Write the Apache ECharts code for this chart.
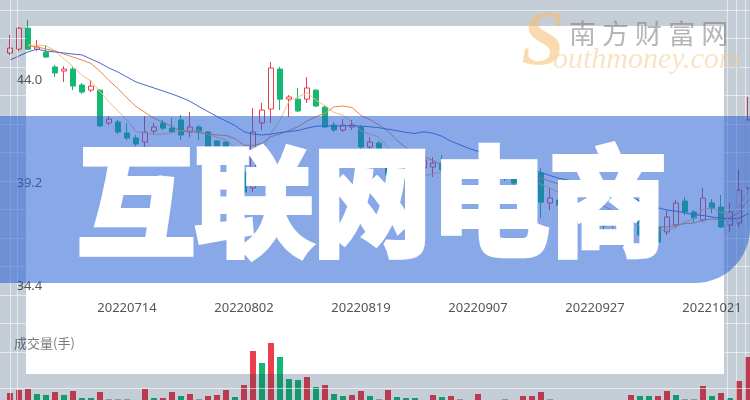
<!DOCTYPE html>
<html><head><meta charset="utf-8">
<script src="https://cdn.jsdelivr.net/npm/echarts@6/dist/echarts.min.js"></script>
<style>html,body{margin:0;padding:0;background:#fff}#c{width:750px;height:400px}</style>
</head><body><div id="c"></div>
<script>
const dates = ['20220627','20220628','20220629','20220630','20220701','20220704','20220705','20220706','20220707','20220708',
'20220711','20220712','20220713','20220714','20220715','20220718','20220719','20220720','20220721','20220722',
'20220725','20220726','20220727','20220728','20220729','20220801','20220802','20220803','20220804','20220805',
'20220808','20220809','20220810','20220811','20220812','20220815','20220816','20220817','20220818','20220819',
'20220822','20220823','20220824','20220825','20220826','20220829','20220830','20220831','20220901','20220902',
'20220905','20220906','20220907','20220908','20220909','20220913','20220914','20220915','20220916','20220919',
'20220920','20220921','20220922','20220923','20220926','20220927','20220928','20220929','20220930','20221010',
'20221011','20221012','20221013','20221014','20221017','20221018','20221019','20221020','20221021','20221024',
'20221025','20221026','20221027'];
const openP = [45.26,45.44,46.42,45.44,45.30,44.61,44.42,44.51,43.77,43.53,
43.53,42.00,42.04,41.53,41.30,41.11,41.62,42.00,41.76,42.14,
41.58,41.81,41.58,41.16,41.11,40.74,39.71,38.97,42.00,42.65,
44.51,43.11,43.11,43.11,43.53,42.74,41.90,41.67,41.81,41.81,
40.88,41.06,40.27,39.71,39.45,39.30,39.90,39.95,40.13,39.80,
39.90,39.85,39.60,39.85,39.60,39.45,39.40,39.15,39.30,39.67,
38.27,38.41,38.20,37.95,37.50,37.25,37.35,37.38,37.25,37.35,
37.57,36.85,37.15,36.92,37.24,38.36,37.85,37.48,38.27,38.08,
37.24,37.34,38.97];
const closeP = [45.49,46.42,45.44,45.54,45.07,44.33,44.51,43.72,43.44,43.72,
41.86,42.18,41.58,41.30,41.02,41.58,41.81,41.76,41.58,41.44,
41.81,41.58,40.88,40.92,40.83,40.04,38.78,41.58,42.60,44.56,
43.11,43.21,42.56,43.63,42.79,41.81,41.67,41.90,41.90,40.88,
41.11,40.83,39.57,39.43,39.25,39.10,40.27,40.13,39.81,39.95,
39.85,39.70,39.90,39.65,39.45,39.40,39.20,39.35,39.45,38.31,
38.50,38.17,37.95,37.70,37.20,37.35,37.20,37.25,37.40,37.55,
36.78,36.70,36.45,37.62,38.27,37.85,37.57,38.50,38.03,37.15,
37.85,38.87,42.14];
const lowP = [45.17,45.35,45.40,45.35,45.03,44.14,43.91,43.53,43.35,43.44,
41.81,41.90,41.48,41.20,40.92,40.88,41.44,41.67,41.53,41.20,
41.34,41.20,40.78,40.83,40.74,39.81,38.27,38.78,41.67,42.00,
42.60,42.28,42.51,42.93,42.74,41.76,41.58,41.58,41.67,40.64,
40.50,40.60,39.43,39.30,39.10,39.00,39.57,39.48,39.71,39.60,
39.70,39.60,39.50,39.50,39.30,39.30,39.10,39.00,39.20,37.57,
37.94,37.71,37.80,37.60,37.10,37.10,37.05,37.10,37.10,37.25,
36.70,36.60,36.35,36.78,37.10,37.71,37.38,37.38,37.80,37.10,
36.92,37.15,38.87];
const highP = [46.10,46.47,46.80,45.86,45.63,44.70,44.65,44.61,43.86,44.00,
43.58,42.32,42.14,42.00,41.44,42.32,42.00,42.14,42.23,42.37,
42.51,41.90,41.62,41.20,41.16,40.83,39.90,42.70,42.93,44.84,
44.61,43.30,43.63,44.14,43.58,42.79,42.04,42.18,42.14,41.90,
41.34,41.16,40.74,39.85,39.60,39.45,40.36,40.41,40.50,40.10,
40.00,39.95,40.00,39.95,39.70,39.55,39.50,39.45,39.60,39.90,
38.97,38.55,38.30,38.10,37.60,37.50,37.45,37.50,37.50,37.65,
37.65,37.00,37.20,37.94,38.41,38.55,37.94,38.97,38.45,38.64,
38.27,39.81,43.21];
const ma5 = [null,null,45.63,45.63,45.60,45.36,44.98,44.64,44.22,43.95,
43.45,42.99,42.56,42.13,41.59,41.53,41.46,41.49,41.55,41.63,
41.68,41.63,41.46,41.33,41.21,40.85,40.29,40.43,40.77,41.51,
42.13,43.01,43.21,43.41,43.06,42.80,42.49,42.36,42.02,41.63,
41.49,41.33,40.86,40.37,40.04,39.64,39.53,39.64,39.71,39.85,
40.00,39.89,39.85,39.82,39.71,39.62,39.52,39.41,39.36,39.14,
38.96,38.76,38.48,38.13,37.91,37.67,37.48,37.34,37.27,37.35,
37.24,37.13,36.98,37.02,37.16,37.38,37.55,37.96,38.05,37.82,
37.82,38.08,38.81];
const ma10 = [null,null,45.59,45.54,45.45,45.35,45.21,45.07,44.93,44.77,
44.41,43.98,43.60,43.17,42.77,42.49,42.22,42.03,41.84,41.61,
41.61,41.55,41.48,41.44,41.42,41.27,40.96,40.95,41.05,41.36,
41.49,41.65,41.82,42.09,42.29,42.46,42.75,42.79,42.72,42.35,
42.15,41.91,41.61,41.19,40.84,40.57,40.43,40.25,40.04,39.95,
39.82,39.71,39.74,39.77,39.79,39.81,39.71,39.63,39.59,39.43,
39.29,39.14,38.94,38.75,38.52,38.32,38.12,37.91,37.70,37.63,
37.46,37.31,37.16,37.15,37.25,37.31,37.34,37.47,37.53,37.49,
37.60,37.82,38.39];
const ma20 = [44.93,45.12,45.31,45.44,45.35,45.31,45.26,45.21,45.17,44.98,
44.79,44.56,44.37,44.14,43.91,43.77,43.63,43.49,43.35,43.19,
43.01,42.76,42.53,42.30,42.09,41.88,41.59,41.48,41.44,41.48,
41.55,41.60,41.65,41.76,41.85,41.86,41.86,41.86,41.88,41.85,
41.82,41.78,41.71,41.64,41.56,41.51,41.59,41.52,41.38,41.15,
40.98,40.81,40.68,40.48,40.31,40.19,40.07,39.94,39.81,39.69,
39.55,39.42,39.34,39.25,39.15,39.06,38.91,38.77,38.64,38.53,
38.37,38.22,38.05,37.94,37.89,37.81,37.73,37.69,37.62,37.56,
37.53,37.56,37.77];
const volume = [17,20,21,16,15,18,15,19,12,12,
18,11,11,11,8,21,12,12,18,14,
16,11,14,15,20,13,25,59,47,67,
53,31,30,33,23,25,16,14,15,19,
14,11,20,13,12,12,8,15,13,14,
11,8,16,8,8,11,8,14,14,18,
11,8,7,8,6,7,8,7,8,15,
14,14,14,19,15,11,11,24,14,17,
12,29,53];
const volDir = [1,1,1,-1,-1,1,-1,1,-1,-1,
1,0,0,0,0,1,-1,1,1,-1,
1,0,1,1,1,-1,1,1,-1,1,
-1,-1,-1,1,-1,1,-1,-1,1,1,
-1,0,1,-1,-1,-1,0,1,-1,1,
0,0,1,0,0,0,0,1,1,1,
0,0,0,0,0,0,0,0,0,1,
-1,-1,1,1,-1,0,0,1,-1,1,
-1,1,1];
const yTicks = [34.4, 39.2, 44.0];
const titleText = '互联网电商';
const volLabel = '成交量(手)';

const RED = '#ee3d4c', GREEN = '#15b873', GRAY = '#b4b4b4';
const candles = dates.map((d, i) => [openP[i], closeP[i], lowP[i], highP[i]]);
const volData = volume.map((v, i) => ({value: v, itemStyle: {color: volDir[i] > 0 ? RED : (volDir[i] < 0 ? GREEN : GRAY)}}));

const overlay = 'rgba(23,55,91,0.25)';
const lineCol = 'rgba(255,255,255,0.55)';
const g = [];
g.push({type:'text', x:14, y:343, z:1, style:{text:volLabel, fill:'#7a7a7a', font:'13px "Noto Sans CJK SC", sans-serif', textVerticalAlign:'middle'}});
[[0,0,750,26],[0,374,750,26],[0,26,26,348],[724,26,26,348]].forEach(r => g.push({type:'rect', z:10, shape:{x:r[0],y:r[1],width:r[2],height:r[3]}, style:{fill:overlay}}));
g.push({type:'line', z:11, shape:{x1:0,y1:10.5,x2:750,y2:10.5}, style:{stroke:lineCol, lineWidth:1}});
g.push({type:'line', z:11, shape:{x1:0,y1:388.5,x2:750,y2:388.5}, style:{stroke:lineCol, lineWidth:1}});
[10.5, 17.5].forEach(x => g.push({type:'line', z:11, shape:{x1:x,y1:0,x2:x,y2:400}, style:{stroke:lineCol, lineWidth:1}}));
[727.5, 736.5, 745.5].forEach(x => g.push({type:'line', z:11, shape:{x1:x,y1:0,x2:x,y2:400}, style:{stroke:lineCol, lineWidth:1}}));
[38.5,67.5,95.5,124.5,152.5,181.5,209.5,238.5,266.5,295.5,323.5,352.5].forEach(y => {
  g.push({type:'line', z:11, shape:{x1:0,y1:y,x2:26,y2:y}, style:{stroke:lineCol, lineWidth:1}});
  g.push({type:'line', z:11, shape:{x1:724,y1:y,x2:750,y2:y}, style:{stroke:lineCol, lineWidth:1}});
});
g.push({type:'rect', z:20, shape:{x:0,y:116,width:750,height:167,r:[0,0,55,0]}, style:{fill:'rgba(38,97,213,0.55)'}});
g.push({type:'text', z:30, x:372, y:201, style:{text:titleText, fill:'#fff', stroke:'#fff', lineWidth:6, font:'bold 118px "Noto Sans CJK SC", sans-serif', textAlign:'center', textVerticalAlign:'middle'}});
g.push({type:'text', z:40, x:543, y:44, style:{text:'S', fill:'rgba(246,190,110,0.55)', font:'italic bold 78px "Liberation Serif", serif', textAlign:'center', textVerticalAlign:'middle'}});
g.push({type:'text', z:40, x:553, y:60, style:{text:'outhmoney.com', fill:'rgba(246,200,140,0.5)', font:'italic 30px "Liberation Serif", serif', textAlign:'left', textVerticalAlign:'middle'}});
g.push({type:'text', z:40, x:569, y:34, style:{text:'南 方 财 富 网', fill:'rgba(120,120,120,0.55)', font:'27px "Noto Sans CJK SC", sans-serif', textAlign:'left', textVerticalAlign:'middle'}});

const chart = echarts.init(document.getElementById('c'), null, {renderer:'canvas'});
chart.setOption({
  animation: false,
  backgroundColor: '#ffffff',
  grid: [
    {left:5.5, top:0, width:747, height:294, containLabel:false, outerBoundsMode:'none'},
    {left:5.5, top:330, width:747, height:80, containLabel:false, outerBoundsMode:'none'}
  ],
  xAxis: [
    {type:'category', gridIndex:0, data:dates, boundaryGap:true, axisLine:{show:false}, axisTick:{show:false}, splitLine:{show:false},
     axisLabel:{color:'#555', fontSize:13, margin:8, fontFamily:'"Noto Sans", sans-serif', interval:(i) => i > 0 && i % 13 === 0}},
    {type:'category', gridIndex:1, data:dates, boundaryGap:true, axisLine:{show:false}, axisTick:{show:false}, axisLabel:{show:false}, splitLine:{show:false}}
  ],
  yAxis: [
    {type:'value', gridIndex:0, min:34.03, max:47.73, axisLine:{show:false}, axisTick:{show:false}, splitLine:{show:false},
     axisLabel:{inside:true, margin:11, color:'#555', fontSize:13, fontFamily:'"Noto Sans", sans-serif', customValues:yTicks, formatter:(v) => v.toFixed(1)}},
    {type:'value', gridIndex:1, min:0, max:80, show:false, splitLine:{show:false}}
  ],
  series: [
    {type:'candlestick', xAxisIndex:0, yAxisIndex:0, data:candles, barWidth:6,
     itemStyle:{color:'transparent', color0:GREEN, borderColor:RED, borderColor0:GREEN, borderWidth:1}},
    {type:'line', xAxisIndex:0, yAxisIndex:0, data:ma5, showSymbol:false, lineStyle:{width:1, color:'#f5be7a'}, itemStyle:{color:'#f5be7a'}},
    {type:'line', xAxisIndex:0, yAxisIndex:0, data:ma10, showSymbol:false, lineStyle:{width:1, color:'#e58a4e'}, itemStyle:{color:'#e58a4e'}},
    {type:'line', xAxisIndex:0, yAxisIndex:0, data:ma20, showSymbol:false, lineStyle:{width:1, color:'#4d68c9'}, itemStyle:{color:'#4d68c9'}},
    {type:'bar', xAxisIndex:1, yAxisIndex:1, data:volData, barWidth:6}
  ],
  graphic: g
});
</script></body></html>
